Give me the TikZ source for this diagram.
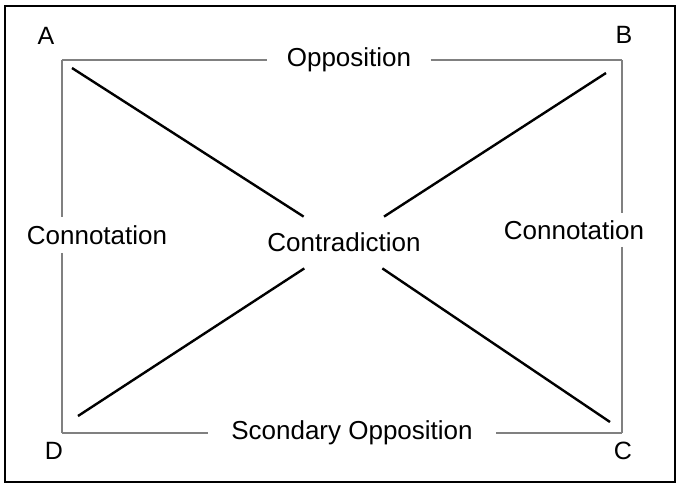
\documentclass[tikz,border=0pt]{standalone}
\usepackage{fontspec}
\setmainfont{Liberation Sans}
\begin{document}
\begin{tikzpicture}[x=0.5pt,y=-0.5pt,
  side/.style={line width=1pt,gray},
  diag/.style={line width=1.2pt,black},
  lbl/.style={font=\fontsize{13}{15}\selectfont,inner sep=0pt},
  corner/.style={font=\fontsize{12.5}{15}\selectfont}]
\useasboundingbox (0,0) rectangle (677,483);
\draw[line width=1pt] (5,6) rectangle (675,482);

% corners of the square
\coordinate (A) at (62,60);
\coordinate (B) at (622,60);
\coordinate (C) at (622,433);
\coordinate (D) at (62,433);
\node[corner] (la) at (46,36) {A};
\node[corner] (lb) at (624,35) {B};
\node[corner] (lc) at (623,451) {C};
\node[corner] (ld) at (54,451) {D};

% labels on the sides and in the middle
\node[lbl,inner xsep=9.5pt] (opp) at (349,60) {Opposition};
\node[lbl,inner xsep=11.5pt] (sec) at (352,433) {Scondary Opposition};
\node[lbl,inner ysep=4pt] (conl) at (97,235) {Connotation};
\node[lbl,inner ysep=3.5pt] (conr) at (574,230) {Connotation};
\node[lbl,minimum height=25.5pt] (contra) at (344,242.5) {Contradiction};

\draw[side] (A) -- (opp) -- (B);
\draw[side] (D) -- (sec) -- (C);
\draw[side] (A) -- (A |- conl.north) (A |- conl.south) -- (D);
\draw[side] (B) -- (B |- conr.north) (B |- conr.south) -- (C);

% diagonals
\coordinate (a) at (72,68);
\coordinate (b) at (606,73);
\coordinate (c) at (610,422);
\coordinate (d) at (78,416);
\draw[diag] (a) -- (contra) -- (c);
\draw[diag] (b) -- (contra) -- (d);
\end{tikzpicture}
\end{document}
